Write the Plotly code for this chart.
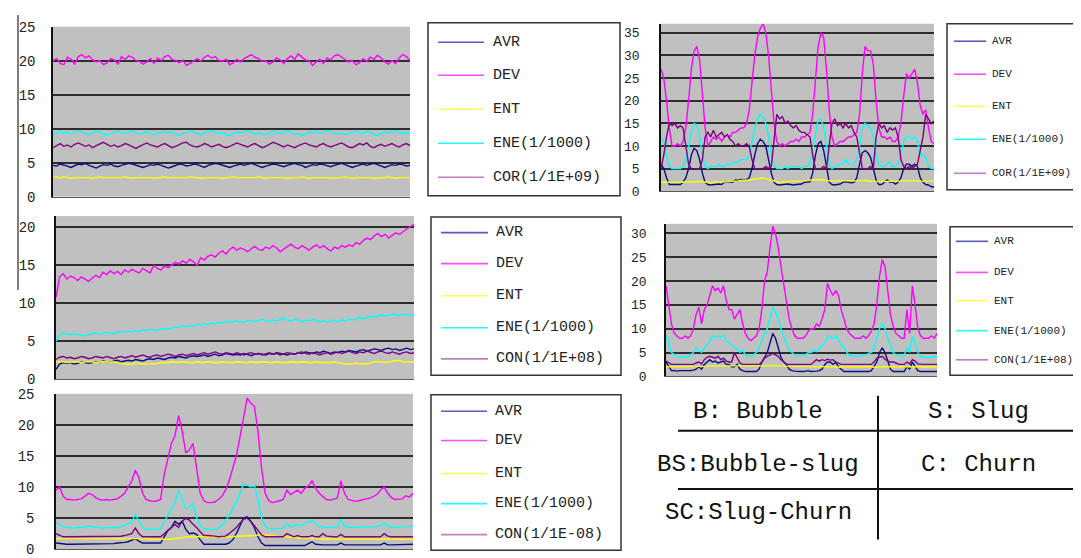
import plotly.graph_objects as go

W, H = 1081, 558

# ---------------- data ----------------
SERIES = ["AVR", "DEV", "ENT", "ENE", "COR"]

# Panel 1 (top-left)
AVR1 = [4.6,4.5,4.8,4.7,4.5,4.3,4.6,4.8,4.7,4.9, 4.6,4.4,4.2,4.5,4.7,4.6,4.8,4.5,4.4,4.6,
        4.7,4.9,4.8,4.6,4.5,4.3,4.5,4.7,4.6,4.8, 4.6,4.4,4.2,4.4,4.6,4.8,4.7,4.5,4.6,4.8,
        4.7,4.5,4.3,4.6,4.7,4.9,4.8,4.6,4.4,4.3, 4.5,4.7,4.8,4.6,4.7,4.9,4.7,4.5,4.3,4.5,
        4.6,4.8,4.7,4.5,4.4,4.6,4.8,4.9,4.7,4.6, 4.3,4.5,4.7,4.6,4.8,4.7,4.5,4.4,4.6,4.8,
        4.9,4.7,4.5,4.3,4.5,4.6,4.8,4.6,4.7,4.9, 4.7,4.5,4.3,4.5,4.7,4.6,4.8,4.7,4.5,4.6]
DEV1 = [20.0,20.3,19.6,19.4,20.5,20.2,19.5,20.6,20.9,20.4, 20.7,20.1,19.8,20.0,19.4,19.7,20.3,20.1,19.5,20.6,
        20.2,20.7,20.5,20.0,19.9,19.5,19.8,20.3,19.6,20.4, 20.0,20.6,20.8,20.2,20.0,19.7,20.1,19.3,19.6,20.0,
        20.3,19.9,20.5,20.8,20.4,20.6,20.0,19.9,20.2,19.4, 19.7,20.2,19.8,20.3,20.6,20.9,20.5,20.3,19.9,20.0,
        19.5,19.8,20.4,20.1,19.6,20.3,20.7,20.2,21.0,20.6, 20.1,20.0,19.3,19.8,20.2,19.6,20.4,20.1,20.7,20.9,
        20.5,20.2,19.8,20.0,19.4,19.7,20.3,19.9,20.5,20.2, 20.8,20.4,19.8,19.5,20.0,19.6,20.4,20.9,20.6,20.0]
ENT1 = [2.9,2.8,2.8,2.9,2.8,2.7,2.8,2.8,2.9,2.8, 2.8,2.7,2.8,2.9,2.8,2.8,2.8,2.7,2.8,2.8,
        2.9,2.8,2.7,2.8,2.8,2.8,2.9,2.8,2.7,2.8, 2.8,2.9,2.8,2.8,2.7,2.8,2.8,2.8,2.9,2.8,
        2.7,2.7,2.8,2.8,2.9,2.8,2.8,2.7,2.8,2.8, 2.9,2.8,2.8,2.7,2.8,2.8,2.8,2.9,2.8,2.7,
        2.8,2.8,2.9,2.8,2.8,2.7,2.8,2.8,2.8,2.9, 2.8,2.7,2.8,2.8,2.9,2.8,2.8,2.7,2.8,2.8,
        2.8,2.9,2.8,2.7,2.8,2.8,2.9,2.8,2.8,2.7, 2.8,2.8,2.8,2.9,2.8,2.7,2.8,2.8,2.7,2.8]
ENE1 = [9.1,9.4,9.6,9.3,9.5,9.2,9.4,9.7,9.5,9.3, 9.1,9.4,9.6,9.5,9.2,9.0,9.3,9.5,9.6,9.4,
        9.3,9.5,9.7,9.4,9.2,9.4,9.6,9.3,9.1,9.3, 9.5,9.6,9.4,9.5,9.2,9.0,9.3,9.4,9.6,9.5,
        9.3,9.1,9.4,9.6,9.7,9.5,9.3,9.4,9.2,9.0, 9.3,9.5,9.4,9.6,9.7,9.5,9.2,9.4,9.3,9.1,
        9.4,9.6,9.5,9.3,9.5,9.7,9.4,9.2,9.3,9.0, 9.2,9.5,9.4,9.6,9.3,9.5,9.7,9.6,9.4,9.2,
        9.4,9.1,9.3,9.5,9.6,9.4,9.3,9.6,9.5,9.2, 9.0,9.3,9.5,9.4,9.6,9.7,9.5,9.3,9.4,9.2]
COR1 = [7.2,7.5,7.8,7.4,7.6,7.3,7.7,7.9,7.6,7.4, 7.6,7.2,7.5,7.8,8.0,7.7,7.4,7.6,7.3,7.5,
        7.8,7.6,7.3,7.1,7.4,7.7,7.9,7.6,7.5,7.3, 7.6,7.8,7.5,7.2,7.4,7.7,7.9,8.0,7.6,7.4,
        7.3,7.5,7.8,7.6,7.3,7.5,7.7,7.4,7.2,7.4, 7.6,7.9,7.7,7.5,7.3,7.6,7.8,7.5,7.2,7.4,
        7.7,8.0,7.8,7.5,7.3,7.6,7.4,7.2,7.5,7.7, 7.9,7.6,7.4,7.3,7.6,7.8,7.5,7.3,7.5,7.7,
        7.9,7.6,7.3,7.2,7.5,7.8,7.6,7.9,7.4,7.2, 7.5,7.7,7.4,7.6,7.8,7.5,7.3,7.6,7.8,7.5]

# Panel 2 (top-right)
AVR2 = [6,5,3,1.5,1.5,1.5,1.4,1.5,2,3, 5,8,9.5,9,7,4,2,1.5,1.4,1.5,
        1.5,1.6,1.5,2,2,2.1,2,2.5,2.4,2.6, 2.5,2.6,3,5,8,10.5,11.5,11,10,7,
        4,2,1.5,1.4,1.5,1.5,1.6,1.5,1.4,1.5, 1.5,1.6,2,2,2.1,4,8,10.5,11,9,
        5,2,1.5,1.4,1.5,1.6,2,2.1,2,1.9, 2,3,6,8.5,9,8.5,7.5,5,2.5,1.5,
        1.5,2,2.5,2,2.1,1.6,2,3,5,6, 6,5.5,6,5.5,3,2,1.5,1.4,1,1]
DEV2 = [27,25,20,14,10,10,10.5,10,11,14, 20,27,31,32,29,22,14,10,11,12,
        11.5,12,11,12,12.5,12,13,13,13.5,14, 14,15,18,24,30,34,36,37,35,30,
        22,15,11,10,10.5,10,10.5,11,11,11.5, 11,12,12,12.5,13,17,25,32,35,34,
        27,18,12,10,10.5,11,11,11.5,12,12, 12.5,13,17,26,32,31,31,28,20,14,
        12,12,11.5,12,11,11,12,15,21,26, 25,26,27,24,19,17,18,14,11,10.5]
ENT2 = [2,2,2,1.9,2,2,2,2,2,2.1, 2.1,2,2,2.1,2.2,2.1,2,2,1.9,2,
        2,2,2,2,2.1,2.2,2.2,2.3,2.3,2.4, 2.4,2.5,2.5,2.6,2.7,2.8,2.9,3,2.8,2.6,
        2.4,2.2,2.1,2,2,2.1,2.1,2.2,2.2,2.2, 2.3,2.3,2.3,2.4,2.4,2.5,2.6,2.6,2.5,2.5,
        2.4,2.3,2.3,2.3,2.4,2.4,2.3,2.3,2.2,2.3, 2.2,2.2,2.3,2.3,2.4,2.3,2.3,2.2,2.2,2.1,
        2.1,2.2,2.2,2.1,2.1,2.2,2.2,2.3,2.3,2.3, 2.3,2.4,2.3,2.3,2.2,2.2,2.2,2.3,2.3,2.3]
ENE2 = [12,11,8,5.5,5,5,5,5,5.5,7, 10,13,15,14.5,12,8,5.5,5,5.5,5.5,
        5.5,6,5.5,5.5,6,6,6,6.5,6.5,7, 7,7,8,11,14,16,17,16.5,15,12,
        8,6,5,5,5,5.5,5,5.5,5.5,5.5, 5.5,5,5.5,5.5,6,9,13,16,16,14,
        10,6,5,5.5,5.5,6,6,7,6,6, 6,7,10,14,15,14.5,14,12,8,6,
        5.5,5.5,6,6.5,5.5,5.5,6,8,11,12, 12,11.5,12,11,8,8,7.5,5.5,5,5]
COR2 = [5,8,12,15,14.5,15,14,14.5,14,10, 6,5,5,5,5,7,12,13,12,13.5,
        12,12.5,13,12,12.5,11.5,11,10,10.5,10, 10,10.5,10,7,5,5,5,5,5.5,5,
        5.5,12,17,16,16.5,15,15.5,14.5,14,14.5, 13.5,13,13,12.5,12,8,5,5,5,5.5,
        5,10,15,16,14.5,15,14,15,14,14.5, 13,12,8,5,5,5,5.5,5,12,15,
        14,14.5,13,14,13.5,14,12,7,5.5,5, 5.5,5,5.5,6,9,12,17,16,15,15.5]

# Panel 3 (middle-left)
AVR3 = [1.3,2.0,2.2,2.1,2.2,2.0,2.1,2.3,2.2,2.1, 2.2,2.3,2.2,2.4,2.3,2.2,2.4,2.5,2.3,2.4,
        2.5,2.4,2.6,2.5,2.4,2.6,2.7,2.6,2.8,2.7, 2.6,2.8,2.9,2.8,3.0,2.9,2.8,3.0,3.1,3.0,
        3.1,3.2,3.0,3.2,3.3,3.1,3.2,3.4,3.3,3.2, 3.3,3.2,3.4,3.3,3.1,3.3,3.4,3.3,3.2,3.4,
        3.3,3.5,3.4,3.3,3.2,3.4,3.3,3.5,3.4,3.6, 3.5,3.4,3.6,3.5,3.7,3.6,3.4,3.6,3.5,3.7,
        3.6,3.8,3.7,3.6,3.8,3.9,3.7,3.8,4.0,3.9, 3.8,4.0,4.1,3.9,4.0,3.8,4.0,4.1,3.9,4.0]
DEV3 = [10.8,13.5,13.9,13.2,13.6,13.4,13.0,13.5,13.2,12.9, 13.3,13.7,13.4,14.1,13.8,14.3,13.9,14.2,13.8,14.4,
        14.1,14.5,14.2,14.0,14.6,14.3,14.0,15.0,14.6,14.4, 14.9,14.7,15.1,15.4,15.2,15.6,15.3,15.8,15.5,15.0,
        16.0,15.7,16.2,16.4,16.1,16.6,16.9,16.5,17.1,17.4, 17.0,17.3,17.1,16.8,17.2,17.5,17.1,17.0,17.4,17.2,
        17.6,17.3,16.8,17.2,17.5,17.8,17.4,17.2,17.6,17.3, 17.0,17.4,17.7,17.3,17.6,17.2,16.9,17.4,17.2,17.6,
        17.4,17.7,17.5,18.0,17.8,18.3,18.6,18.4,18.9,19.2, 18.8,19.1,18.6,19.0,19.3,19.1,19.5,19.8,20.1,20.4]
ENT3 = [2.3,2.3,2.3,2.2,2.3,2.3,2.3,2.2,2.3,2.3, 2.3,2.2,2.3,2.3,2.3,2.2,2.3,2.2,2.2,2.0,
        2.0,2.0,2.1,2.0,2.0,2.0,2.1,2.0,2.1,2.2, 2.2,2.2,2.3,2.2,2.2,2.3,2.2,2.2,2.2,2.3,
        2.2,2.2,2.3,2.2,2.2,2.2,2.3,2.2,2.2,2.2, 2.3,2.2,2.2,2.2,2.3,2.2,2.2,2.3,2.2,2.2,
        2.2,2.3,2.2,2.2,2.2,2.3,2.2,2.2,2.3,2.2, 2.2,2.2,2.3,2.2,2.2,2.2,2.2,2.3,2.2,2.0,
        2.0,2.0,2.0,2.1,2.0,2.0,2.0,2.2,2.3,2.3, 2.3,2.2,2.3,2.3,2.4,2.5,2.3,2.3,2.3,2.3]
ENE3 = [5.0,5.9,6.1,5.9,5.8,6.0,5.9,5.8,5.7,5.9, 6.0,6.1,5.9,6.0,6.2,6.1,6.0,6.2,6.3,6.2,
        6.3,6.2,6.4,6.3,6.5,6.4,6.6,6.5,6.4,6.6, 6.7,6.6,6.8,6.9,6.8,7.0,6.9,7.1,7.0,7.2,
        7.1,7.3,7.2,7.4,7.3,7.5,7.4,7.6,7.5,7.6, 7.7,7.6,7.5,7.7,7.8,7.6,7.7,7.9,7.7,7.6,
        7.8,7.7,7.9,8.0,7.8,7.7,7.9,7.8,7.6,7.8, 7.7,7.9,7.8,7.6,7.7,7.5,7.7,7.8,7.6,7.8,
        7.7,7.9,7.8,8.0,8.1,8.0,8.2,8.3,8.2,8.4, 8.5,8.3,8.4,8.6,8.5,8.4,8.6,8.5,8.4,8.6]
CON3 = [2.6,2.9,3.0,2.8,2.9,2.7,2.8,3.0,2.9,2.7, 2.8,3.0,2.9,2.8,3.0,2.9,2.7,2.9,3.0,2.8,
        3.0,3.1,2.9,3.0,3.2,3.0,2.9,3.1,3.2,3.0, 3.1,3.3,3.2,3.0,3.2,3.3,3.1,3.3,3.4,3.2,
        3.3,3.5,3.3,3.4,3.6,3.4,3.3,3.5,3.4,3.3, 3.5,3.4,3.2,3.4,3.5,3.3,3.4,3.2,3.4,3.5,
        3.3,3.4,3.2,3.3,3.5,3.4,3.3,3.5,3.6,3.4, 3.3,3.5,3.4,3.2,3.4,3.5,3.3,3.5,3.6,3.4,
        3.5,3.7,3.5,3.4,3.6,3.5,3.7,3.6,3.4,3.6, 3.7,3.5,3.4,3.6,3.5,3.3,3.5,3.6,3.4,3.5]

# Panel 4 (middle-right)
AVR4 = [3,2,1.2,1.2,1.1,1.2,1.2,1.1,1.2,1.2, 1.3,1.5,2,1.5,2.5,3,3.5,3,3.2,2.8,
        3,3.2,2.5,2.5,2,2,2.5,1.5,1.2,1, 1,1,1,1,1.5,3,4,5,7,9,
        8,6,4,3,2.5,1.5,1.2,1.1,1,1, 1,1.1,1.2,1,1,1.1,1.2,1.5,2.5,3,
        3,2.5,3,2,1.5,1,1,1,1,1, 1,1,1,1,1,1.2,2,3,5,6,
        5,3,1.5,1,1,1,1,1,2,1.5, 3,2,1.2,1,1,1,1,1,1,1]
DEV4 = [19,15,11,9,8.5,8,8,8.5,8,8.5, 10,13,14.5,11,14,15,17,19,18,18.5,
        17.5,19,16,14,14,12,13,14,11,9, 8,7.5,8,8.5,10,14,20,22,27,31.5,
        30,27,23,19,15,12,10,8.5,8,8, 8,8.5,9.5,10,10,11,10.5,12,14,19.5,
        18,17,18,17,14,12,10,9,8.5,8, 8,8,8.5,8,8.5,9.5,11,15,21,24.5,
        23,18,13,10.5,9,8.5,8,8,14,9, 19,15,10,8.5,8,8,8,8.5,8,9]
ENT4 = [2,2,2,2,2,2,2,2,2,2, 2,2,2.1,2.1,2.1,2.1,2.2,2.2,2.2,2.2,
        2.2,2.2,2.2,2.2,2.2,2.1,2.1,2.1,2.1,2.1, 2.1,2.1,2.1,2.2,2.2,2.2,2.2,2.3,2.3,2.3,
        2.3,2.2,2.2,2.2,2.1,2.1,2.1,2,2,2, 2,2,2,2,2,2,2,2,2,2,
        2,2,2,1.9,2,2,2,2,2,2, 2.1,2,2,2,2,2,1.9,2,2,2,
        2,2,2,2,2,2.1,2,2,2,2, 2,2,2,2,1.9,2,2,2,2,2]
ENE4 = [8.5,7,5,4.5,4.2,4,4,4.2,4,4.5, 5,6,5.5,5,6,6.5,7.5,8.5,8.2,8.5,
        8.3,8.6,7.5,7,6.5,6,5.8,5,5.5,4.5, 4.3,4.2,4.5,5,6,7.5,9,10,12,14.5,
        13.5,12,10,8.5,7,5.5,5,4.5,4.3,4.2, 4.5,4.5,5,5,5.5,5.2,5.8,6.5,7,8.5,
        8.3,8,8.5,7.5,6.5,6,5,4.5,4.3,4.2, 4.2,4.3,4.5,4.5,4.8,5,6,8,10,11,
        10,8,6.5,5,4.5,4.3,4.2,4.3,6,5, 8.5,7,5,4.2,4,4,4,4,4.2,4]
CON4 = [3.2,2.8,2.5,2.5,2.5,2.4,2.5,2.5,2.5,2.4, 2.5,2.8,3,2.6,3.5,4,4.2,4,3.8,4.2,
        3.5,3.8,3.2,3,3,5,4,2.8,2.5,2.5, 2.5,2.5,2.5,2.5,2.5,3,3.8,4.2,4.5,4.8,
        4.5,4.2,3.5,3,2.6,2.5,2.5,2.5,2.5,2.5, 2.5,2.5,2.5,2.5,3,3.5,3.2,3.5,3.3,3.6,
        3.4,3.5,3,2.7,2.5,2.5,2.5,2.5,2.5,2.5, 2.5,2.5,2.5,2.5,2.5,2.5,3,3.8,4,4.2,
        3.6,3.2,3,3,2.8,2.5,2.5,2.5,3,2.6, 3.5,3.2,2.6,2.5,2.5,2.5,2.5,2.5,2.5,2.5]

# Panel 5 (bottom-left)
AVR5 = [1,0.9,0.8,0.8,0.8,0.8,0.8,0.8,0.8,0.9, 0.9,0.8,0.8,0.8,0.8,0.9,0.9,1,1,1.1,
        1.2,1.4,1.7,1.3,1,1,1,1,1,1, 2,3,3.5,4.5,4,4.5,3.2,2.5,2.6,2.4,
        1.5,0.8,0.8,0.8,0.8,0.8,0.8,0.8,1,1.5, 2.5,3.8,5,5.2,4.5,3.5,2,1,0.6,0.6,
        0.6,0.6,0.6,0.6,0.6,0.6,0.6,0.6,0.6,0.6, 0.9,1.2,0.8,0.7,0.7,0.7,0.7,0.7,0.7,1,
        0.7,0.7,0.7,0.7,0.7,0.7,0.7,0.7,0.7,0.7, 0.7,1,0.7,0.7,0.7,0.7,0.7,0.8,0.7,0.8]
DEV5 = [9.5,10,8.5,8,8,7.9,8,8.1,8.5,9, 8.8,8.3,8,7.9,8,7.9,8,8.1,8.5,9,
        10,11,12.7,11.5,9,8,7.8,7.7,7.8,8, 12,14.5,17,18.3,21.5,19,15.5,16,17,13,
        9,7.8,7.5,7.5,7.6,8,8.5,9.5,11,13, 15,18,21,24.3,23.5,23,19,13,9,7.8,
        7.5,7.6,7.8,8,9.5,8.8,9.2,9.5,9,9.8, 10.2,11,9.8,9,8.5,8,7.9,8,8.2,11,
        9,8,7.8,7.7,7.8,8,8.1,8.2,8.5,8.8, 9.5,10,9,8.3,8,8,8.1,8.6,8.4,9]
ENT5 = [1.7,1.7,1.7,1.8,1.7,1.7,1.7,1.7,1.8,1.7, 1.7,1.7,1.7,1.7,1.8,1.7,1.7,1.7,1.7,1.7,
        1.8,1.7,1.7,1.7,1.7,1.7,1.6,1.6,1.5,1.5, 1.5,1.5,1.6,1.7,1.8,1.8,1.9,2,2,2,
        2,1.9,1.9,1.9,1.9,1.9,2,2,2,2, 2.1,2.1,2.2,2.2,2.2,2.2,2.3,2.3,2.3,2.3,
        2.2,2.1,2,2,2,1.9,1.9,1.8,1.8,1.8, 1.8,1.8,1.7,1.7,1.6,1.6,1.6,1.6,1.6,1.6,
        1.6,1.6,1.6,1.6,1.6,1.6,1.6,1.6,1.6,1.6, 1.6,1.6,1.6,1.6,1.6,1.6,1.6,1.6,1.6,1.6]
ENE5 = [4.2,4,3.6,3.5,3.5,3.4,3.5,3.5,3.6,3.7, 3.6,3.5,3.5,3.4,3.5,3.5,3.4,3.5,3.6,3.8,
        4,4.3,5.6,4.5,3.5,3.2,3.2,3.1,3.2,3.3, 4.5,5.5,6.5,7.5,9.5,8,6.5,6.8,7.3,5,
        3.8,3.3,3.2,3.2,3.2,3.4,3.8,4.5,5.5,6.5, 7.5,9,10.5,10.3,10,10.2,8,5,3.8,3.3,
        3.3,3.3,3.3,3.4,4.2,3.6,3.8,4,3.8,4.2, 4.4,4.6,4,3.8,3.5,3.5,3.5,3.5,3.6,4.8,
        3.8,3.5,3.5,3.5,3.5,3.5,3.5,3.6,3.6,3.7, 3.8,4.2,3.7,3.5,3.5,3.5,3.5,3.6,3.6,3.8]
CON5 = [2.5,2.2,2,2,2,2,2,2,2.1,2, 2,2,2,2,2,2,2,2,2.1,2.2,
        2.3,2.5,3.4,2.5,2,2,2,2,2,2, 2.5,3,3.5,4,3.5,4.5,5,4.7,4,3.5,
        2.8,2.2,2.2,2.2,2.1,2,2,2.1,2.5,3, 3.5,4.2,4.8,5,4.5,3.8,3,2.3,2,2,
        2,2,2,2,2.5,2.2,2,2.2,2,2, 2,2.2,2,2,2.5,2.1,2,2,2,2.4,
        2,2,2,2,2,2,2,2,2,2, 2,2.5,2.1,2,2,2,2,2,2,2]

LEGEND_TEXTS = [
    ["AVR", "DEV", "ENT", "ENE(1/1000)", "COR(1/1E+09)"],
    ["AVR", "DEV", "ENT", "ENE(1/1000)", "COR(1/1E+09)"],
    ["AVR", "DEV", "ENT", "ENE(1/1000)", "CON(1/1E+08)"],
    ["AVR", "DEV", "ENT", "ENE(1/1000)", "CON(1/1E+08)"],
    ["AVR", "DEV", "ENT", "ENE(1/1000)", "CON(1/1E-08)"],
]
TABLE_CELLS = [["B: Bubble", "S: Slug"], ["BS:Bubble-slug", "C: Churn"], ["SC:Slug-Churn", ""]]

# ---------------- styling / layout ----------------
LINE_COLORS = ["#0c0c86", "#ff00ff", "#ffff00", "#00ffff", "#800080"]
SAMPLE_COLORS = ["#5a5ac4", "#ff4cff", "#ffff55", "#2cf6f6", "#c27ec2"]
MONO = "Liberation Mono"

panels = [
    dict(data=[AVR1, DEV1, ENT1, ENE1, COR1], ymax=25, px=(45, 402, 12, 187), fs=14, so=13),
    dict(data=[AVR2, DEV2, ENT2, ENE2, COR2], ymax=37, px=(653, 926, 9, 181.5), fs=13, so=17),
    dict(data=[AVR3, DEV3, ENT3, ENE3, CON3], ymax=21.5, px=(48, 406, 207, 375), fs=14, so=16),
    dict(data=[AVR4, DEV4, ENT4, ENE4, CON4], ymax=32, px=(658, 929, 215, 372), fs=13, so=15),
    dict(data=[AVR5, DEV5, ENT5, ENE5, CON5], ymax=25, px=(48, 405, 390, 550), fs=14, so=17),
]

legends = [
    dict(box=(420, 612, 8, 186), rows=[28, 62, 97, 132, 167], line=(430, 476), tx=483, fs=15),
    dict(box=(939, 1095, 9, 180), rows=[27, 61, 94, 128, 163], line=(946, 978), tx=982, fs=11),
    dict(box=(423, 613, 208, 371), rows=[224, 256, 289, 322, 354], line=(433, 480), tx=486, fs=15),
    dict(box=(942, 1095, 218, 371), rows=[233, 265, 294, 325, 355], line=(948, 980), tx=984, fs=11),
    dict(box=(423, 613, 391, 551), rows=[408, 438, 472, 503, 535], line=(433, 479), tx=485, fs=15),
]


def fx(x):
    return x / W


def fy(y):
    return 1 - y / H


fig = go.Figure()
layout = dict(
    width=W, height=H, autosize=False,
    margin=dict(l=0, r=0, t=0, b=0),
    paper_bgcolor="white", plot_bgcolor="#c0c0c0",
    showlegend=False,
)

for k, p in enumerate(panels):
    sfx = "" if k == 0 else str(k + 1)
    n = len(p["data"][0])
    for name, vals, col in zip(SERIES, p["data"], LINE_COLORS):
        fig.add_trace(go.Scatter(
            x=list(range(len(vals))), y=vals, mode="lines", name=name,
            line=dict(color=col, width=1.4),
            xaxis="x" + sfx, yaxis="y" + sfx, hoverinfo="skip",
        ))
    x0, x1, y0, y1 = p["px"]
    layout["xaxis" + sfx] = dict(
        domain=[fx(x0), fx(x1)], range=[0, n - 1], anchor="y" + sfx,
        showgrid=False, showticklabels=False, zeroline=False, ticks="",
        showline=True, linecolor="#5a5a5a", linewidth=1,
    )
    layout["yaxis" + sfx] = dict(
        domain=[fy(y1), fy(y0)], range=[0, p["ymax"]], anchor="x" + sfx,
        tick0=0, dtick=5, showgrid=True, gridcolor="#2e2e2e", gridwidth=1.5,
        zeroline=False, showline=True, linecolor="#111111", linewidth=1.5,
        ticks="", ticklabelstandoff=p["so"],
        tickfont=dict(family=MONO, size=p["fs"], color="#222222"),
    )

shapes = []
annotations = []

# legend boxes
for lg, texts in zip(legends, LEGEND_TEXTS):
    bx0, bx1, by0, by1 = lg["box"]
    shapes.append(dict(type="rect", xref="paper", yref="paper",
                       x0=fx(bx0), x1=fx(bx1), y0=fy(by1), y1=fy(by0),
                       line=dict(color="#333333", width=1.5), fillcolor="white", layer="below"))
    for ry, txt, col in zip(lg["rows"], texts, SAMPLE_COLORS):
        shapes.append(dict(type="line", xref="paper", yref="paper",
                           x0=fx(lg["line"][0]), x1=fx(lg["line"][1]), y0=fy(ry), y1=fy(ry),
                           line=dict(color=col, width=1.6)))
        annotations.append(dict(xref="paper", yref="paper", x=fx(lg["tx"]), y=fy(ry),
                                xanchor="left", yanchor="middle", showarrow=False, text=txt,
                                font=dict(family=MONO, size=lg["fs"], color="#222222")))

# decorative vertical rule at far left
shapes.append(dict(type="line", xref="paper", yref="paper", x0=fx(10), x1=fx(10),
                   y0=fy(0), y1=fy(283), line=dict(color="#555555", width=1.5)))

# table of flow regimes
shapes.append(dict(type="line", xref="paper", yref="paper", x0=fx(870), x1=fx(870),
                   y0=fy(540), y1=fy(392), line=dict(color="#111111", width=2)))
for hy in (428, 488):
    shapes.append(dict(type="line", xref="paper", yref="paper", x0=fx(670), x1=fx(1085),
                       y0=fy(hy), y1=fy(hy), line=dict(color="#111111", width=2)))
cell_x = [750, 970]
cell_y = [408, 463, 512]
for r, row in enumerate(TABLE_CELLS):
    for c, txt in enumerate(row):
        if txt:
            annotations.append(dict(xref="paper", yref="paper", x=fx(cell_x[c]), y=fy(cell_y[r]),
                                    xanchor="center", yanchor="middle", showarrow=False, text=txt,
                                    font=dict(family=MONO, size=24, color="#111111")))

layout["shapes"] = shapes
layout["annotations"] = annotations
fig.update_layout(**layout)
fig.write_html("out.html")
